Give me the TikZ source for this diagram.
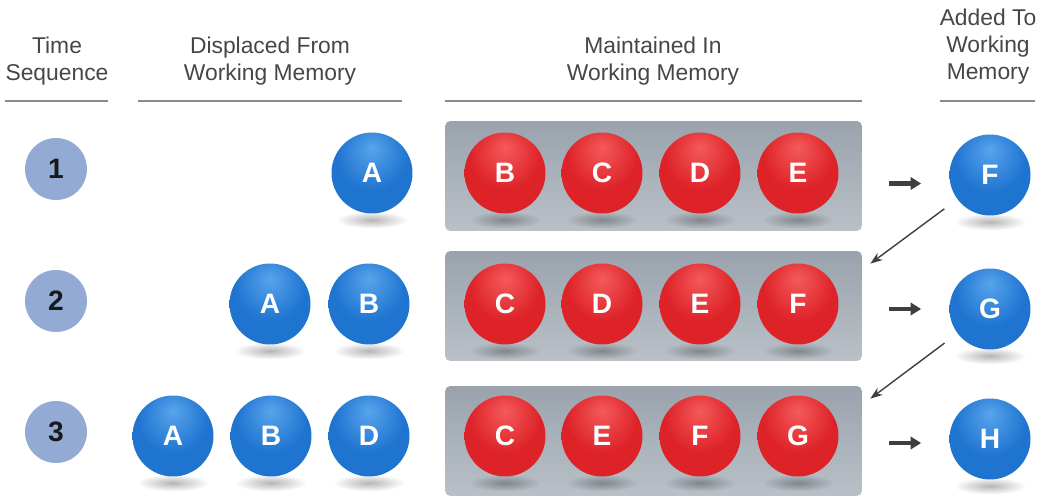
\documentclass[tikz,border=0pt]{standalone}
\usepackage{fontspec}
\setmainfont{Liberation Sans}
\usepackage{xcolor}
\usepackage{tikz}
\usetikzlibrary{arrows.meta,fadings}

\definecolor{headgray}{HTML}{464646}
\definecolor{rulegray}{HTML}{8C8C8C}
\definecolor{boxtop}{HTML}{9AA3AD}
\definecolor{boxbot}{HTML}{B9C0C7}
\definecolor{numblue}{HTML}{92AAD4}
\definecolor{arrowgray}{HTML}{3F3F3F}
\definecolor{blueHi}{HTML}{58A4EC}
\definecolor{blueMid}{HTML}{1F74D0}
\definecolor{blueDk}{HTML}{1456A6}
\definecolor{redHi}{HTML}{F45A5A}
\definecolor{redMid}{HTML}{DD2228}
\definecolor{redDk}{HTML}{A81014}

\pgfdeclareradialshading{blueglass}{\pgfpoint{0bp}{16bp}}{color(0bp)=(blueHi); color(22bp)=(blueMid); color(46bp)=(blueMid); color(60bp)=(blueDk); color(70bp)=(blueDk)}
\pgfdeclareradialshading{redglass}{\pgfpoint{0bp}{16bp}}{color(0bp)=(redHi); color(22bp)=(redMid); color(46bp)=(redMid); color(60bp)=(redDk); color(70bp)=(redDk)}
\tikzfading[name=softshadow, inner color=transparent!10, outer color=transparent!100]

\pgfdeclarelayer{boxes}
\pgfdeclarelayer{shadow}
\pgfsetlayers{boxes,shadow,main}

\tikzset{
  headtext/.style={text=headgray, font=\fontsize{13}{15.4}\selectfont, align=center},
  headrule/.style={draw=rulegray, line width=1.6pt},
  memorybox/.style={rectangle, rounded corners=3pt, minimum width=8.34cm, minimum height=2.2cm, top color=boxtop, bottom color=boxbot},
  seqnum/.style={circle, minimum size=1.24cm, fill=numblue, text=black!90, font=\fontsize{16}{16}\selectfont\bfseries},
  glassball/.style={circle, minimum size=1.62cm, inner sep=0pt, text=white, font=\fontsize{16}{16}\selectfont\bfseries},
  blueitem/.style={glassball, shade, shading=blueglass},
  reditem/.style={glassball, shade, shading=redglass},
  ballshadow/.style={fill=black, opacity=0.32, path fading=softshadow},
  movearrow/.style={-{Triangle[length=6pt,width=7pt]}, line width=2.4pt, draw=arrowgray},
  feedarrow/.style={-{Stealth[length=7pt,width=5pt]}, line width=0.8pt, draw=arrowgray}
}

\begin{document}
\begin{tikzpicture}[x=0.02cm, y=-0.02cm]
  \useasboundingbox (0,0) rectangle (1042,497);

  % headings
  \node[headtext] (hTime) at (57,61) {Time\\Sequence};
  \node[headtext] (hOut) at (270,61) {Displaced From\\Working Memory};
  \node[headtext] (hKeep) at (653,61) {Maintained In\\Working Memory};
  \node[headtext] (hIn) at (988,47) {Added To\\Working\\Memory};
  \draw[headrule] (5,101) -- (108,101);
  \draw[headrule] (138,101) -- (402,101);
  \draw[headrule] (445,101) -- (862,101);
  \draw[headrule] (940,101) -- (1035,101);

  % grey boxes
  \begin{pgfonlayer}{boxes}
  \node[memorybox] (box1) at (653.5,176) {};
  \node[memorybox] (box2) at (653.5,306) {};
  \node[memorybox] (box3) at (653.5,441) {};
  \end{pgfonlayer}

  % time sequence
  \node[seqnum] (t1) at (56,169) {1};
  \node[seqnum] (t2) at (56,301) {2};
  \node[seqnum] (t3) at (56,432) {3};

  % row 1
  \node[blueitem] (out1a) at (372,173) {A};
  \node[reditem] (keep1b) at (505,173) {B};
  \node[reditem] (keep1c) at (602,173) {C};
  \node[reditem] (keep1d) at (700,173) {D};
  \node[reditem] (keep1e) at (798,173) {E};
  \node[blueitem] (add1) at (990,175) {F};

  % row 2
  \node[blueitem] (out2a) at (270,304) {A};
  \node[blueitem] (out2b) at (369,304) {B};
  \node[reditem] (keep2c) at (505,304) {C};
  \node[reditem] (keep2d) at (602,304) {D};
  \node[reditem] (keep2e) at (700,304) {E};
  \node[reditem] (keep2f) at (798,304) {F};
  \node[blueitem] (add2) at (990,309) {G};

  % row 3
  \node[blueitem] (out3a) at (173,436) {A};
  \node[blueitem] (out3b) at (271,436) {B};
  \node[blueitem] (out3d) at (369,436) {D};
  \node[reditem] (keep3c) at (505,436) {C};
  \node[reditem] (keep3e) at (602,436) {E};
  \node[reditem] (keep3f) at (700,436) {F};
  \node[reditem] (keep3g) at (798,436) {G};
  \node[blueitem] (add3) at (990,439) {H};

  % shadows under the balls
  \begin{pgfonlayer}{shadow}
  \foreach \b in {out1a,keep1b,keep1c,keep1d,keep1e,add1,
                  out2a,out2b,keep2c,keep2d,keep2e,keep2f,add2,
                  out3a,out3b,out3d,keep3c,keep3e,keep3f,keep3g,add3}
    \fill[ballshadow] ([yshift=-0.12cm]\b.south) ellipse (0.72cm and 0.17cm);
  \end{pgfonlayer}

  % arrows
  \draw[movearrow, shorten <=0.54cm, shorten >=0.56cm] ([yshift=-0.15cm]box1.east) -- ([yshift=-0.15cm]box1.east -| add1.west);
  \draw[movearrow, shorten <=0.54cm, shorten >=0.56cm] ([yshift=-0.06cm]box2.east) -- ([yshift=-0.06cm]box2.east -| add2.west);
  \draw[movearrow, shorten <=0.54cm, shorten >=0.56cm] ([yshift=-0.04cm]box3.east) -- ([yshift=-0.04cm]box3.east -| add3.west);

  \coordinate (drop2) at ([xshift=0.16cm,yshift=-0.26cm]box2.north east);
  \coordinate (drop3) at ([xshift=0.16cm,yshift=-0.26cm]box3.north east);
  \draw[feedarrow, shorten <=0.32cm] (add1) -- (drop2);
  \draw[feedarrow, shorten <=0.32cm] (add2) -- (drop3);
\end{tikzpicture}
\end{document}
